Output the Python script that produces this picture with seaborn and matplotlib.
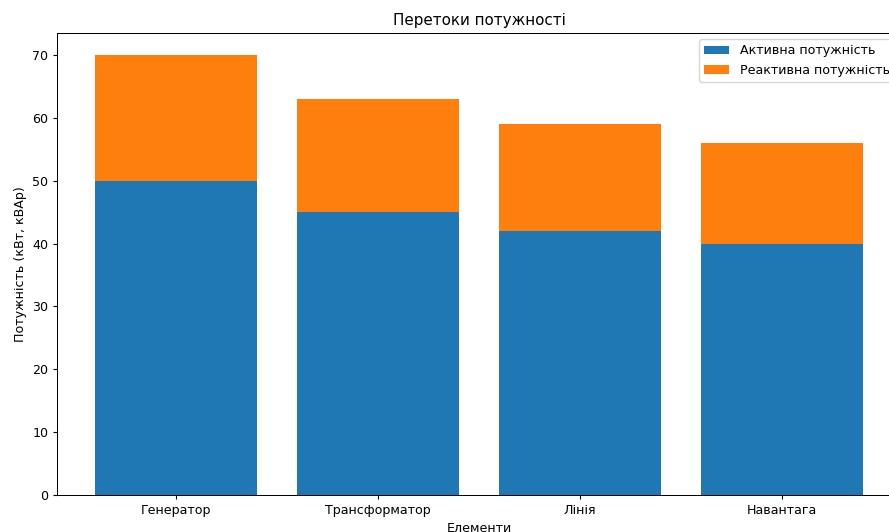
import matplotlib
matplotlib.use("Agg")
import matplotlib.pyplot as plt
import seaborn as sns

# Data
elements = ["Генератор", "Трансформатор", "Лінія", "Навантага"]
active_power = [50, 45, 42, 40]
reactive_power = [20, 18, 17, 16]
totals = [a + r for a, r in zip(active_power, reactive_power)]

# the reference looks like a slightly downscaled default matplotlib render
scale = 0.91
plt.rcParams["font.size"] = 10 * scale
plt.rcParams["axes.linewidth"] = 0.8 * scale
plt.rcParams["xtick.major.size"] = 3.5 * scale
plt.rcParams["ytick.major.size"] = 3.5 * scale
plt.rcParams["xtick.major.pad"] = 3.5 * scale
plt.rcParams["ytick.major.pad"] = 3.5 * scale

fig = plt.figure(figsize=(8.89, 5.32), dpi=100)
# axes extends slightly past the right edge, like the cropped original
ax = fig.add_axes([0.0641, 0.0695, 0.9494, 0.8685])

# stacked bars: draw total (reactive on top) first, then active over it
sns.barplot(x=elements, y=totals, color="#ff7f0e", saturation=1,
            label="Реактивна потужність", ax=ax)
sns.barplot(x=elements, y=active_power, color="#1f77b4", saturation=1,
            label="Активна потужність", ax=ax)

ax.set_xlim(-0.59, 3.59)
ax.set_ylim(0, 73.5)
ax.set_title("Перетоки потужності")
ax.set_xlabel("Елементи")
ax.set_ylabel("Потужність (кВт, кВАр)")

handles, labels = ax.get_legend_handles_labels()
ax.legend(handles[::-1], labels[::-1], loc="upper right")

fig.savefig("out.png", dpi=100)
